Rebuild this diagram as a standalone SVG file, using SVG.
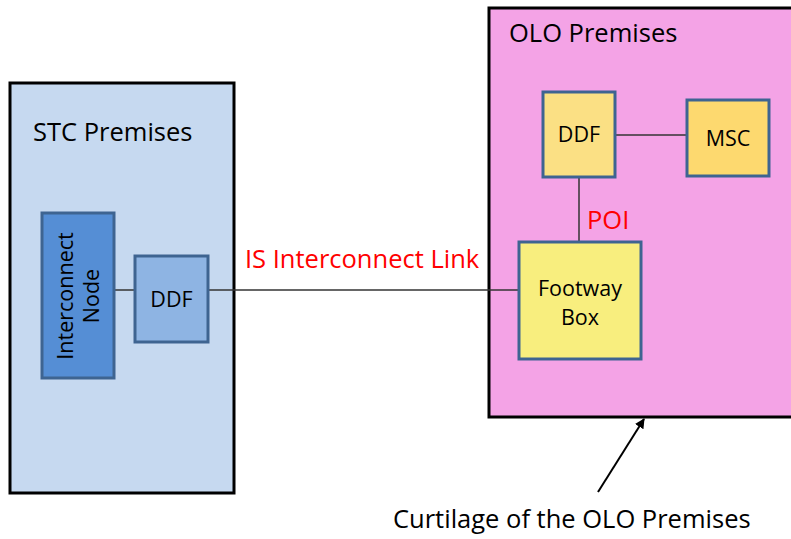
<svg xmlns="http://www.w3.org/2000/svg" width="791" height="539" viewBox="0 0 791 539">
<style>
text{font-family:"Open Sans","Liberation Sans",sans-serif;fill:#000}
.lbl{font-size:25.5px}
.n{font-size:21.5px;text-anchor:middle}
.red{fill:#ff0000}
.node{stroke:#3e6491;stroke-width:3}
.line{stroke:#333;stroke-width:1.5;fill:none}
</style>
<defs>
<marker id="ah" viewBox="0 0 10 10" refX="9" refY="5" markerWidth="5" markerHeight="5" orient="auto"><path d="M0,0L10,5L0,10z" fill="#000"/></marker>
</defs>
<g id="stc-premises"><rect x="10" y="83" width="224" height="410" fill="#c6d9f0" stroke="#000" stroke-width="3"/><text class="lbl" x="33" y="141">STC Premises</text></g>
<g id="olo-premises"><rect x="489" y="8" width="310" height="409" fill="#f4a3e6" stroke="#000" stroke-width="3"/><text class="lbl" x="509" y="42">OLO Premises</text></g>
<g id="connectors">
<line class="line" x1="114" y1="290" x2="135" y2="290"/>
<line class="line" x1="208" y1="290" x2="519" y2="290"/>
<line class="line" x1="615" y1="135" x2="687" y2="135"/>
<line class="line" x1="579" y1="177" x2="579" y2="242"/>
<line x1="598" y1="492" x2="644" y2="419" stroke="#000" stroke-width="2" marker-end="url(#ah)"/>
</g>
<g id="interconnect-node"><rect class="node" x="42" y="213" width="72" height="165" fill="#558ed5"/><text class="n" transform="translate(78,296) rotate(-90)"><tspan x="0" y="-5">Interconnect</tspan><tspan x="0" y="21">Node</tspan></text></g>
<g id="ddf-stc"><rect class="node" x="135" y="256" width="73" height="86" fill="#8eb4e3"/><text class="n" x="171.5" y="307">DDF</text></g>
<g id="ddf-olo"><rect class="node" x="543" y="92" width="72" height="85" fill="#fbe084"/><text class="n" x="579" y="142">DDF</text></g>
<g id="msc"><rect class="node" x="687" y="100" width="82" height="76" fill="#fdd96f"/><text class="n" x="728" y="146">MSC</text></g>
<g id="footway-box"><rect class="node" x="519" y="242" width="122" height="117" fill="#f8ee7e"/><text class="n" x="580" y="296">Footway</text><text class="n" x="580" y="325">Box</text></g>
<text class="lbl red" x="245" y="268">IS Interconnect Link</text>
<text class="lbl red" x="587" y="229">POI</text>
<text class="lbl" x="393" y="528">Curtilage of the OLO Premises</text>
</svg>
